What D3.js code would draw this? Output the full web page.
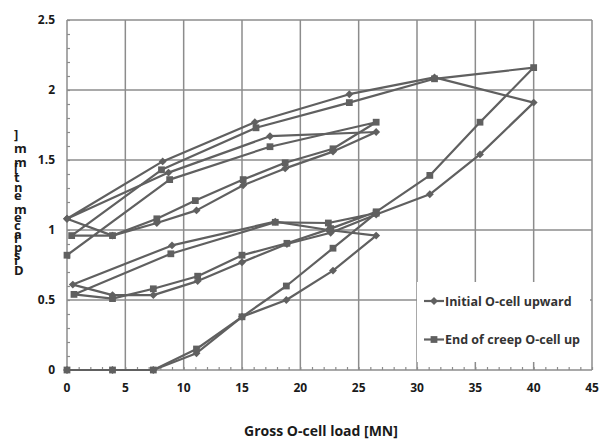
<!DOCTYPE html>
<html>
<head>
<meta charset="utf-8">
<script src="https://cdn.jsdelivr.net/npm/d3@7"></script>
<style>
  body { margin: 0; background: #fff; }
  text { font-family: "Open Sans", "Liberation Sans", sans-serif; font-weight: 700; }
</style>
</head>
<body>
<svg id="chart"></svg>
<script>
// Initial O-cell upward (diamonds)
const initLoad = [0, 3.9, 7.4, 11.1, 15.0, 18.8, 22.8, 26.5, 22.4, 17.85, 9.0, 0.5,
                  3.9, 7.4, 11.2, 15.0, 18.85, 22.6, 26.5, 31.1, 35.4, 40.0,
                  31.5, 24.2, 16.1, 8.2, 0,
                  3.9, 7.7, 11.1, 15.1, 18.7, 22.8, 26.5, 17.4, 8.7, 0];
const initDisp = [0, 0, 0, 0.12, 0.38, 0.5, 0.71, 0.96, 1.0, 1.06, 0.89, 0.61,
                  0.535, 0.535, 0.635, 0.77, 0.9, 0.98, 1.11, 1.255, 1.54, 1.91,
                  2.09, 1.97, 1.77, 1.49, 1.08,
                  0.96, 1.05, 1.14, 1.32, 1.44, 1.56, 1.70, 1.67, 1.41, 1.08];

// End of creep O-cell up (squares)
const creepLoad = [0, 3.9, 7.4, 11.1, 15.0, 18.8, 22.8, 26.5, 22.4, 17.85, 8.9, 0.6,
                   3.9, 7.4, 11.2, 15.0, 18.85, 22.6, 26.5, 31.1, 35.4, 40.0,
                   31.5, 24.2, 16.2, 8.1, 0.4,
                   3.9, 7.7, 11.0, 15.1, 18.7, 22.8, 26.5, 17.4, 8.8, 0];
const creepDisp = [0, 0, 0, 0.15, 0.38, 0.6, 0.87, 1.12, 1.05, 1.055, 0.83, 0.54,
                   0.51, 0.58, 0.67, 0.82, 0.905, 1.01, 1.13, 1.39, 1.77, 2.16,
                   2.08, 1.91, 1.73, 1.43, 0.96,
                   0.96, 1.08, 1.21, 1.36, 1.48, 1.58, 1.77, 1.595, 1.36, 0.82];

const seriesNames = ["Initial O-cell upward", "End of creep O-cell up"];
const xTicks = [0, 5, 10, 15, 20, 25, 30, 35, 40, 45];
const yTicks = [0, 0.5, 1, 1.5, 2, 2.5];
const xTitle = "Gross O-cell load [MN]";
const yTitle = "Displacement [mm]";

const width = 600, height = 439;
const margin = { top: 20, right: 8, bottom: 69, left: 67 };
const lineColor = "#606060", gridColor = "#8c8c8c";

const svg = d3.select("#chart").attr("width", width).attr("height", height);

const x = d3.scaleLinear().domain([0, 45]).range([margin.left, width - margin.right]);
const y = d3.scaleLinear().domain([0, 2.5]).range([height - margin.bottom, margin.top]);

// grid
svg.append("g")
   .selectAll("line")
   .data(xTicks)
   .enter().append("line")
   .attr("x1", d => x(d)).attr("x2", d => x(d))
   .attr("y1", y(0)).attr("y2", y(2.5))
   .attr("stroke", gridColor).attr("stroke-width", 1.5);

svg.append("g")
   .selectAll("line")
   .data(yTicks)
   .enter().append("line")
   .attr("x1", x(0)).attr("x2", x(45))
   .attr("y1", d => y(d)).attr("y2", d => y(d))
   .attr("stroke", gridColor).attr("stroke-width", 1.5);

// minor ticks (inside)
svg.append("g")
   .attr("transform", `translate(0, ${y(0)})`)
   .call(d3.axisTop(x).ticks(45).tickSize(3).tickFormat(""))
   .call(g => g.select(".domain").remove())
   .call(g => g.selectAll("line").attr("stroke", gridColor).attr("stroke-width", 1.2));

svg.append("g")
   .attr("transform", `translate(${x(0)}, 0)`)
   .call(d3.axisRight(y).ticks(25).tickSize(3).tickFormat(""))
   .call(g => g.select(".domain").remove())
   .call(g => g.selectAll("line").attr("stroke", gridColor).attr("stroke-width", 1.2));

// tick labels
svg.append("g")
   .selectAll("text")
   .data(xTicks)
   .enter().append("text")
   .attr("x", d => x(d))
   .attr("y", 392)
   .attr("text-anchor", "middle")
   .attr("fill", "#1a1a1a")
   .style("font-size", "12px")
   .text(d => d);

svg.append("g")
   .selectAll("text")
   .data(yTicks)
   .enter().append("text")
   .attr("x", 55)
   .attr("y", d => y(d) + 4)
   .attr("text-anchor", "end")
   .attr("fill", "#1a1a1a")
   .style("font-size", "12px")
   .text(d => d);

// series
const initData = initLoad.map((v, i) => [v, initDisp[i]]);
const creepData = creepLoad.map((v, i) => [v, creepDisp[i]]);

const line = d3.line().x(d => x(d[0])).y(d => y(d[1]));

const diamond = d3.symbol().type(d3.symbolDiamond2).size(40);
const square = d3.symbol().type(d3.symbolSquare).size(46);

function drawSeries(data, sym) {
    svg.append("path")
       .datum(data)
       .attr("d", line)
       .attr("fill", "none")
       .attr("stroke", lineColor)
       .attr("stroke-width", 2.2)
       .attr("stroke-linejoin", "round");

    svg.append("g")
       .selectAll("path")
       .data(data)
       .enter().append("path")
       .attr("transform", d => `translate(${x(d[0])},${y(d[1])})`)
       .attr("d", sym)
       .attr("fill", lineColor);
}

drawSeries(initData, diamond);
drawSeries(creepData, square);

// legend
const legend = svg.append("g").attr("transform", "translate(417, 282)");
legend.append("rect")
      .attr("width", 173).attr("height", 80)
      .attr("fill", "#fff");

[diamond, square].forEach((sym, i) => {
    const ly = 19 + i * 38.5;
    legend.append("line")
          .attr("x1", 7).attr("x2", 27)
          .attr("y1", ly).attr("y2", ly)
          .attr("stroke", lineColor).attr("stroke-width", 2.2);
    legend.append("path")
          .attr("transform", `translate(17,${ly})`)
          .attr("d", sym)
          .attr("fill", lineColor);
    legend.append("text")
          .attr("x", 28)
          .attr("y", ly + 4.5)
          .attr("fill", "#333")
          .style("font-size", "12.5px")
          .text(seriesNames[i]);
});

// axis titles
svg.append("text")
   .attr("x", 321)
   .attr("y", 436)
   .attr("text-anchor", "middle")
   .attr("fill", "#1a1a1a")
   .style("font-size", "14px")
   .text(xTitle);

// y title: rotated run, each glyph turned back upright (as in the source)
svg.append("text")
   .attr("transform", "translate(14, 275) rotate(-90)")
   .attr("rotate", 90)
   .attr("textLength", 140)
   .attr("lengthAdjust", "spacing")
   .attr("fill", "#1a1a1a")
   .style("font-size", "13px")
   .text(yTitle);
</script>
</body>
</html>
